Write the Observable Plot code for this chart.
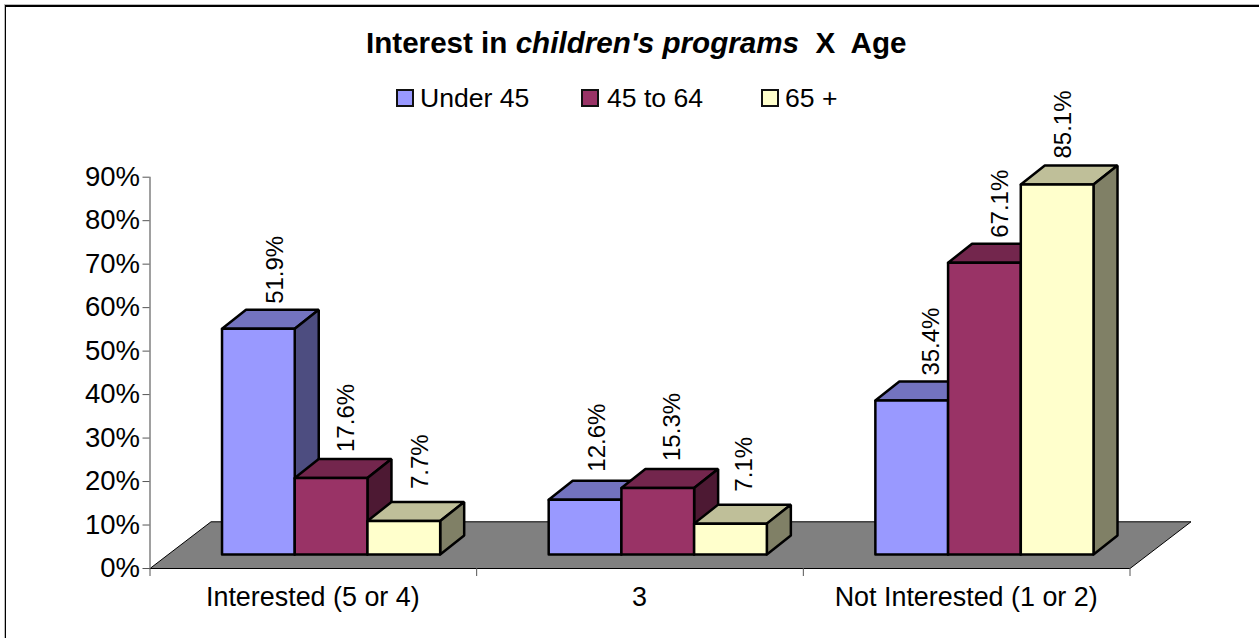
<!DOCTYPE html>
<html>
<head>
<meta charset="utf-8">
<script src="https://cdn.jsdelivr.net/npm/d3@7"></script>
<script src="https://cdn.jsdelivr.net/npm/@observablehq/plot@0.6"></script>
<style>
  html, body { margin: 0; padding: 0; background: #fff; }
  #page { position: relative; width: 1259px; height: 638px; overflow: hidden; font-family: "Liberation Sans", Arial, sans-serif; color: #000; }
  #frame { position: absolute; left: 5px; top: 5px; width: 1300px; height: 700px; border: 1px solid #000; border-top-width: 2px; box-shadow: -1px -1px 0 #bbb; }
  #title { position: absolute; left: 366px; top: 27px; font-weight: bold; font-size: 29.6px; line-height: 32px; white-space: pre; }
  #legend { position: absolute; top: 83px; left: 0; height: 30px; font-size: 26.6px; line-height: 30px; }
  .item { position: absolute; top: 0; white-space: pre; }
  .sw { position: absolute; top: 6px; width: 14px; height: 14px; border: 2px solid #111; }
  svg { position: absolute; left: 0; top: 0; background: transparent !important; }
</style>
</head>
<body>
<div id="page">
  <div id="frame"></div>
  <div id="chart"></div>
  <div id="title"></div>
  <div id="legend"></div>
</div>
<script>
const categories = ["Interested (5 or 4)", "3", "Not Interested (1 or 2)"];
const seriesNames = ["Under 45", "45 to 64", "65 +"];
const under45 = [51.9, 12.6, 35.4];
const age45to64 = [17.6, 15.3, 67.1];
const age65plus = [7.7, 7.1, 85.1];
const yTicks = [0, 10, 20, 30, 40, 50, 60, 70, 80, 90];

const seriesValues = [under45, age45to64, age65plus];
const frontColors = ["#9999FF", "#993366", "#FFFFCC"];
const topColors = ["#7373BF", "#73264D", "#BFBF99"];
const sideColors = ["#4D4D80", "#4D1933", "#808066"];

// Layout of the pseudo-3D box, in data units
const pxX = 326.67, pxY = 4.348;
const barStart = 0.2205, barW = 0.2226;
const depthX = 24 / pxX, depthY = 19 / pxY;
const baseY = 14 / pxY;
const floorX = 61 / pxX, floorY = 46.7 / pxY;
// Label offsets from each bar's front-top-left corner, in px
const labelDx = [[53, 52, 53], [49, 51, 50.5], [56, 52, 43]];
const labelRise = [[25, 26, 32], [28, 27, 32], [25, 25, 26]];

function poly(list, id, fill, pts) {
  pts.concat([pts[0]]).forEach(([x, y]) => list.push({id, fill, x, y}));
}
const floor = [];
poly(floor, "floor", "#808080", [[0, 0], [3, 0], [3 + floorX, floorY], [floorX, floorY]]);

const faces = [];
const labels = [];
categories.forEach((cat, i) => {
  seriesValues.forEach((vals, s) => {
    const v = vals[i];
    const x0 = i + barStart + s * barW, x1 = x0 + barW;
    const y0 = baseY, y1 = baseY + v;
    poly(faces, `t${i}${s}`, topColors[s], [[x0, y1], [x1, y1], [x1 + depthX, y1 + depthY], [x0 + depthX, y1 + depthY]]);
    poly(faces, `s${i}${s}`, sideColors[s], [[x1, y0], [x1 + depthX, y0 + depthY], [x1 + depthX, y1 + depthY], [x1, y1]]);
    poly(faces, `f${i}${s}`, frontColors[s], [[x0, y0], [x1, y0], [x1, y1], [x0, y1]]);
    labels.push({x: x0 + labelDx[i][s] / pxX, y: y1 + labelRise[i][s] / pxY, text: v.toFixed(1) + "%"});
  });
});

const plot = Plot.plot({
  width: 1259,
  height: 638,
  marginLeft: 149.5,
  marginRight: 129.5,
  marginTop: 176.7,
  marginBottom: 70,
  x: {domain: [0, 3], axis: null},
  y: {domain: [0, 90], axis: null},
  style: {background: "transparent", fontFamily: "'Liberation Sans', Arial, sans-serif", color: "#000"},
  marks: [
    Plot.line(floor, {x: "x", y: "y", z: "id", fill: "fill", stroke: "#000", strokeWidth: 1, clip: false}),
    Plot.ruleX([0], {y1: 0, y2: 90, stroke: "#808080", strokeWidth: 1.5}),
    Plot.axisY({ticks: yTicks, tickSize: 7, tickPadding: 3, stroke: "#555", fill: "#000", fontSize: 27.5, tickFormat: d => d + "%", label: null, marginLeft: 149.5}),
    Plot.axisX({ticks: [0, 1, 2, 3], tickSize: 8, stroke: "#555", tickFormat: () => "", label: null}),
    Plot.axisX({ticks: [0.5, 1.5, 2.5], tickSize: 0, tickPadding: 18.5, stroke: "none", fill: "#000", fontSize: 26.9, lineAnchor: "top", tickFormat: d => categories[Math.floor(d)], label: null, dx: -0.5}),
    Plot.line(faces, {x: "x", y: "y", z: "id", fill: "fill", stroke: "#000", strokeWidth: 2.5, strokeLinejoin: "miter", curve: "linear"}),
    Plot.text(labels, {x: "x", y: "y", text: "text", rotate: -90, textAnchor: "start", lineAnchor: "middle", fontSize: 24, fill: "#000"})
  ]
});
document.getElementById("chart").appendChild(plot);

// Title with its italic run
const title = document.getElementById("title");
title.append("Interest in ");
const em = document.createElement("i");
em.textContent = "children's programs";
title.append(em);
title.append("  X  Age");

// Legend
const legend = document.getElementById("legend");
const swatchX = [396, 581, 761];
const textX = [420, 607, 785];
seriesNames.forEach((name, s) => {
  const sw = document.createElement("div");
  sw.className = "sw";
  sw.style.left = swatchX[s] + "px";
  sw.style.background = frontColors[s];
  legend.append(sw);
  const t = document.createElement("div");
  t.className = "item";
  t.style.left = textX[s] + "px";
  t.textContent = name;
  legend.append(t);
});
</script>
</body>
</html>
